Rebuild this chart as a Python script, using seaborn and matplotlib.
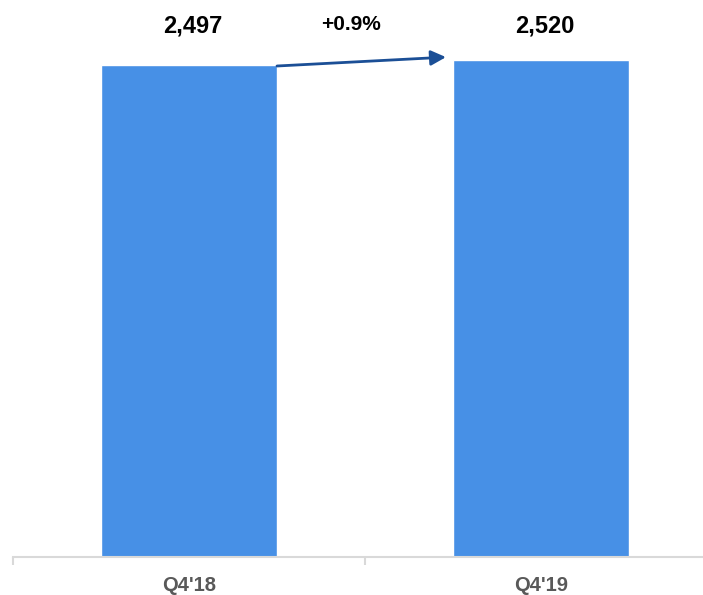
import matplotlib
matplotlib.use("Agg")
import matplotlib.pyplot as plt
import seaborn as sns
import pandas as pd

categories = ["Q4'18", "Q4'19"]
values = [2497, 2520]
value_labels = ["2,497", "2,520"]
change_label = "+0.9%"

sns.set_style("white")
plt.rcParams['font.family'] = ['Liberation Sans', 'DejaVu Sans']

df = pd.DataFrame({"cat": categories, "val": values})

W, H = 703, 595
fig = plt.figure(figsize=(W / 100, H / 100), dpi=100)
ax = fig.add_axes([13 / W, (H - 557) / H, (717 - 13) / W, 557 / H])

sns.barplot(data=df, x="cat", y="val", color="#4790E6", saturation=1,
            width=0.5, ax=ax)

ax.set_xlim(-0.5, 1.5)
ax.set_ylim(0, 2827)
ax.set_xlabel("")
ax.set_ylabel("")
ax.set_yticks([])
for s in ["top", "right", "left"]:
    ax.spines[s].set_visible(False)
ax.spines["bottom"].set_color("#D9D9D9")
ax.spines["bottom"].set_linewidth(1.5)
ax.tick_params(axis="x", which="both", bottom=True)
ax.tick_params(axis="x", which="major", length=0, pad=14,
               labelsize=14.5, labelcolor="#595959")
for lab in ax.get_xticklabels():
    lab.set_fontweight("bold")
ax.set_xticks([-0.5, 0.5, 1.5], minor=True)
ax.tick_params(axis="x", which="minor", length=6, width=1.5, color="#D9D9D9")

label_y = max(values) + 175
for i, t in enumerate(value_labels):
    ax.text(i + 0.01, label_y, t, ha="center", va="center", fontsize=17,
            fontweight="bold", color="black")

ax.annotate("", xy=(0.73, values[1] + 17), xytext=(0.25, values[0] - 5),
            arrowprops=dict(arrowstyle="-|>,head_length=0.9,head_width=0.45",
                            color="#1B4F96", lw=2, shrinkA=0, shrinkB=0))
ax.text(0.461, label_y + 10, change_label, ha="center", va="center",
        fontsize=15, fontweight="bold", color="black")

fig.savefig("out.png", dpi=100)
